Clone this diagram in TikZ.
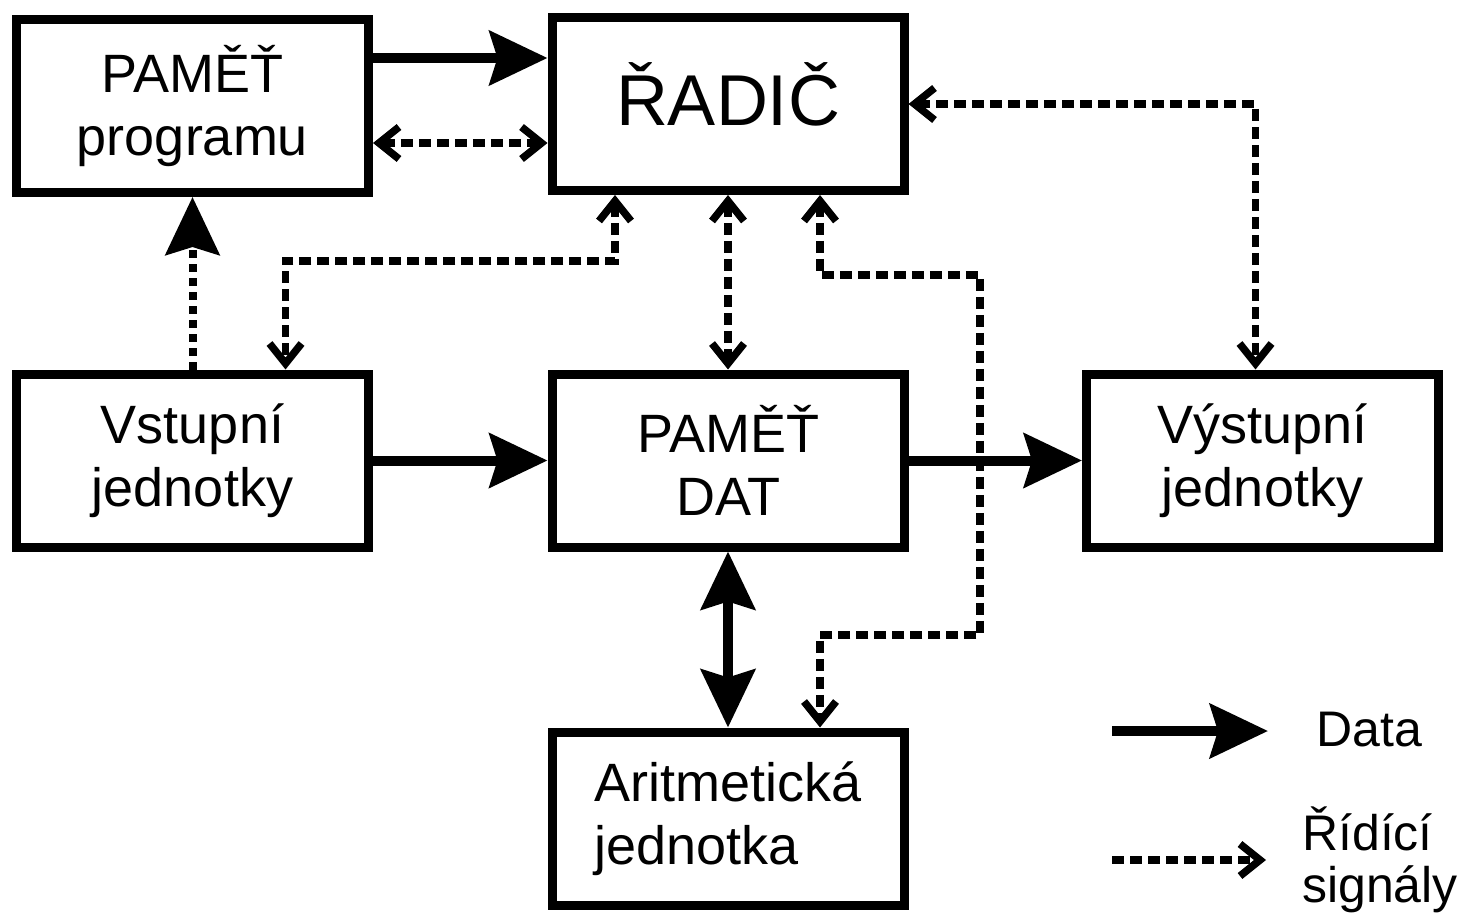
\documentclass[tikz,border=0pt]{standalone}
\usepackage{fontspec}
\setmainfont{Liberation Sans}
\usetikzlibrary{arrows.meta}

\begin{document}
\begin{tikzpicture}[x=1pt, y=-1pt,
  box/.style={draw, line width=9pt, minimum width=352pt, minimum height=173pt, inner sep=0pt, align=center, font=\fontsize{54}{63}\selectfont},
  data/.style={line width=10pt, >={Stealth[length=58pt,width=54pt,inset=8pt]}, ->},
  ctrl/.style={line width=7.5pt, dash pattern=on 12pt off 6pt, >={Straight Barb[length=20pt,width=32pt]}, ->},
  dotarrow/.style={line width=8pt, dash pattern=on 8pt off 6pt, >={Stealth[length=58pt,width=54pt,inset=8pt]}, ->},
  legend/.style={font=\fontsize{50}{52}\selectfont, align=left, inner sep=0pt}]
\useasboundingbox (0,0) rectangle (1459,915);

% bloky
\node [box] (prog) at (192.5,106) {\raisebox{6pt}{PAMĚŤ}\\\raisebox{6pt}{programu}};
\node [box, font=\fontsize{72}{80}\selectfont] (radic) at (728,104) {\raisebox{20pt}{ŘADIČ}};
\node [box] (vstup) at (192.5,460.5) {Vstupní\\jednotky};
\node [box] (pdat) at (728,460.5) {PAMĚŤ\\DAT};
\node [box] (vystup) at (1262.5,460.5) {Výstupní\\jednotky};
\node [box, align=left] (alu) at (728,818.5) {\raisebox{8pt}{Aritmetická}\\\raisebox{8pt}{jednotka}};

% data
\draw [data] ([yshift=48pt]prog.east) -- ([yshift=48pt]prog.east -| radic.west);
\draw [data] (vstup.east) -- (pdat.west);
\draw [data] (pdat.east) -- (vystup.west);
\draw [data, <->] (pdat.south) -- (alu.north);

% ridici signaly
\draw [ctrl, <->] ([yshift=-37pt]prog.east) -- ([yshift=-37pt]prog.east -| radic.west);
\draw [dotarrow] (vstup.north) -- (prog.south);
\draw [ctrl, <->] ([xshift=-113pt]radic.south) -- ++(0,66) -| ([xshift=93pt]vstup.north);
\draw [ctrl, <->] (radic.south) -- (pdat.north);
\coordinate (c1) at (980,275);
\coordinate (c2) at (980,635);
\draw [ctrl, <->] ([xshift=92pt]radic.south) |- (c1) -- (c2) -| ([xshift=92pt]alu.north);
\draw [ctrl, <->] (radic.east) -| ([xshift=-7pt]vystup.north);

% legenda
\coordinate (d1) at (1112,731);
\coordinate (d2) at (1268,731);
\node [legend] (ldata) at (1369,730) {Data};
\draw [data] (d1) -- (d2);
\coordinate (s1) at (1112,860);
\coordinate (s2) at (1266,860);
\node [legend, anchor=west] (lsig) at (1302,860) {Řídící\\signály};
\draw [ctrl] (s1) -- (s2);
\end{tikzpicture}
\end{document}
